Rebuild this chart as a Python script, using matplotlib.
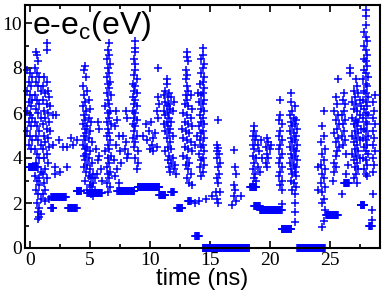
import numpy as np
import matplotlib
matplotlib.use("Agg")
import matplotlib.pyplot as plt

# ---- data: (time in ns, e - e_c in eV) ----
# vertical bursts of points
burst_a = [(-0.2, 7.9), (0.0, 7.8), (0.2, 7.6), (-0.1, 7.4), (0.1, 7.2), (-0.2, 7.0), (0.0, 6.8),
           (0.2, 6.6), (-0.1, 6.5), (0.1, 6.3), (-0.2, 6.1), (0.0, 5.9), (0.2, 5.8), (-0.1, 5.6),
           (0.1, 5.4), (-0.2, 5.2), (0.0, 5.0), (0.2, 4.8), (-0.1, 4.6), (0.1, 4.4)]
burst_b = [(0.5, 8.7), (0.7, 8.3), (0.4, 8.0), (0.6, 7.8), (0.8, 7.6), (0.5, 7.4), (0.7, 7.2),
           (0.9, 7.0), (0.4, 6.8), (0.6, 6.6), (0.8, 6.4), (0.5, 6.2), (0.7, 6.0), (0.9, 5.8),
           (0.4, 5.6), (0.6, 5.4), (0.8, 5.2), (0.5, 5.0), (0.7, 4.8), (0.9, 4.6), (0.4, 4.4),
           (0.6, 4.2), (0.8, 4.0), (0.5, 3.8), (0.7, 3.6), (0.9, 3.4), (0.4, 3.2), (0.6, 3.0),
           (0.8, 2.8), (0.5, 2.6), (0.7, 2.4), (0.9, 2.2), (0.6, 2.0), (0.8, 1.8), (0.7, 1.6),
           (0.9, 1.5), (0.8, 1.4), (0.7, 1.3), (0.8, 3.1), (1.4, 9.1), (1.4, 8.8), (0.6, 8.6)]
burst_c = [(1.2, 7.6), (1.4, 7.4), (1.1, 7.2), (1.5, 7.0), (1.3, 6.9), (1.6, 6.7), (1.1, 6.6),
           (1.4, 6.4), (1.7, 6.3), (1.2, 6.1), (1.5, 6.0), (1.3, 5.8), (1.6, 5.6), (1.1, 5.5),
           (1.4, 5.3), (1.7, 5.2), (1.2, 5.0), (1.5, 4.9), (1.3, 4.7), (1.6, 4.5), (1.1, 4.4),
           (1.4, 4.2), (1.2, 4.0), (1.5, 3.8), (1.3, 3.5), (1.1, 3.3), (1.4, 3.1), (1.2, 2.9),
           (1.3, 2.6), (1.1, 2.4), (1.6, 2.2), (1.3, 2.1)]
scatter_early = [(2.2, 5.9), (1.95, 5.9), (1.9, 4.6), (2.4, 4.8), (2.8, 4.5), (3.1, 4.5), (3.6, 4.6),
                 (3.9, 4.8), (2.1, 3.6), (2.1, 3.3), (2.5, 3.4), (3.1, 3.6), (3.4, 4.9)]
burst_d = [(4.6, 8.1), (4.5, 7.9), (4.7, 7.6), (4.4, 7.2), (4.8, 7.0), (4.5, 6.8), (4.9, 6.6),
           (4.6, 6.5), (4.4, 6.3), (5.0, 6.2), (4.7, 6.1), (4.5, 5.9), (4.9, 5.8), (4.6, 5.7),
           (5.1, 5.6), (4.4, 5.5), (4.8, 5.4), (4.6, 5.3), (5.0, 5.2), (4.7, 5.1), (4.5, 5.0),
           (4.9, 4.9), (4.6, 4.8), (5.2, 4.7), (4.4, 4.6), (4.8, 4.5), (4.6, 4.4), (5.0, 4.3),
           (4.7, 4.2), (4.5, 4.1), (4.9, 4.0), (4.6, 3.9), (5.2, 3.8), (4.8, 3.7), (4.5, 3.6),
           (5.0, 3.5), (4.7, 3.4), (5.3, 3.3), (4.9, 3.2), (5.1, 3.1), (4.6, 3.0), (5.3, 2.9),
           (5.0, 2.8), (5.2, 2.7), (4.8, 2.6), (5.4, 2.5), (5.1, 2.4), (5.3, 2.3),
           (5.5, 4.4), (5.7, 3.9), (5.9, 3.5), (5.6, 3.3), (6.0, 3.0), (5.8, 4.1), (5.4, 3.1),
           (5.7, 5.6), (5.8, 5.3)]
burst_e = [(6.6, 9.1), (6.5, 8.8), (6.6, 8.6), (6.4, 8.4), (6.7, 8.2), (6.5, 8.0), (6.6, 7.8),
           (6.4, 7.6), (6.7, 7.4), (6.5, 7.3), (6.6, 7.1), (6.4, 6.9), (6.8, 6.8), (6.5, 6.6),
           (6.6, 6.4), (6.3, 6.3), (6.7, 6.1), (6.5, 6.0), (6.6, 5.8), (6.4, 5.6), (6.8, 5.5),
           (6.5, 5.3), (6.6, 5.1), (6.4, 5.0), (6.7, 4.8), (6.5, 4.6), (6.6, 4.4), (6.3, 4.3),
           (6.8, 4.1), (6.5, 4.0), (6.6, 3.8), (6.4, 3.6), (6.7, 3.4), (6.5, 3.3), (6.6, 3.1),
           (6.4, 2.9), (6.7, 2.7), (6.5, 2.5)]
scatter_mid = [(7.2, 6.1), (7.3, 5.7), (7.1, 5.4), (7.4, 5.0), (7.2, 4.6), (7.5, 4.3), (7.0, 3.9),
               (7.3, 3.5), (7.1, 3.2), (7.4, 2.9), (7.8, 5.0), (8.0, 4.7), (7.9, 4.4), (8.2, 4.2),
               (8.1, 4.0), (7.6, 3.8), (8.0, 6.1), (8.1, 5.8)]
burst_f = [(8.8, 9.2), (8.8, 8.9), (8.8, 8.7), (8.7, 8.4), (8.8, 8.2), (8.8, 7.9), (8.7, 7.7),
           (8.9, 7.5), (8.6, 7.3), (8.8, 7.2), (8.7, 7.0), (8.9, 6.9), (8.6, 6.7), (8.8, 6.6),
           (8.7, 6.4), (8.9, 6.3), (8.6, 6.1), (8.8, 6.0), (8.7, 5.8), (8.9, 5.7), (8.6, 5.5),
           (8.8, 5.4), (8.7, 5.2), (8.9, 5.0), (8.6, 4.9), (8.8, 4.7), (8.7, 4.5), (9.0, 4.3),
           (8.8, 4.0), (9.0, 3.8), (8.9, 3.5)]
scatter_ten = [(9.4, 5.0), (9.7, 5.5), (9.9, 5.2), (10.1, 5.6), (9.8, 4.8), (10.2, 4.6), (10.0, 4.4),
               (10.4, 5.1), (10.7, 8.0), (10.3, 4.9), (10.6, 4.5), (10.25, 4.3), (10.7, 6.7),
               (10.8, 6.4), (10.6, 6.1), (10.7, 5.8)]
burst_g = [(11.4, 7.5), (11.4, 7.3), (11.3, 7.0), (11.6, 6.9), (11.2, 6.8), (11.5, 6.7), (11.8, 6.7),
           (11.3, 6.5), (11.6, 6.4), (12.0, 6.5), (11.4, 6.3), (11.7, 6.2), (11.2, 6.1), (11.5, 6.0),
           (11.9, 6.1), (11.3, 5.9), (11.6, 5.8), (11.4, 5.6), (11.8, 5.6), (11.2, 5.5), (11.5, 5.4),
           (11.7, 5.3), (11.3, 5.2), (11.6, 5.1), (11.9, 5.0), (11.4, 4.9), (11.7, 4.7), (11.5, 4.5),
           (11.8, 4.4), (11.3, 4.3), (11.6, 4.1), (11.9, 4.0), (11.5, 3.9), (11.8, 3.8), (12.1, 3.7),
           (11.6, 3.6), (12.0, 3.5), (11.7, 3.4), (12.2, 3.3)]
burst_h = [(13.1, 8.7), (13.1, 8.5), (13.2, 8.3), (13.0, 7.9), (13.1, 7.7), (13.0, 7.5), (13.1, 7.2),
           (13.2, 7.0), (13.0, 6.8), (13.1, 6.6), (13.4, 6.8), (12.9, 6.4), (13.2, 6.3), (13.5, 6.2),
           (12.8, 6.0), (13.1, 5.9), (13.4, 5.8), (12.9, 5.6), (13.2, 5.5), (13.5, 5.4), (12.7, 5.3),
           (13.0, 5.2), (13.3, 5.1), (12.8, 4.9), (13.1, 4.8), (13.4, 4.7), (12.9, 4.5), (13.2, 4.4),
           (13.5, 4.3), (12.8, 4.1), (13.1, 4.0), (13.3, 3.8), (13.0, 3.7), (13.2, 3.5), (13.4, 3.3),
           (13.1, 3.1), (13.3, 2.9), (13.5, 2.8), (13.75, 2.0)]
burst_i = [(14.4, 8.9), (14.4, 8.6), (14.3, 8.4), (14.5, 8.2), (14.4, 8.0), (14.3, 7.8), (14.5, 7.6),
           (14.4, 7.4), (14.2, 7.3), (14.5, 7.1), (14.4, 6.9), (14.3, 6.8), (14.5, 6.6), (14.1, 6.5),
           (14.4, 6.4), (14.3, 6.2), (14.5, 6.1), (14.2, 5.9), (14.4, 5.8), (14.3, 5.6), (14.5, 5.5),
           (14.1, 5.4), (14.4, 5.2), (14.3, 5.1), (14.5, 4.9), (14.2, 4.8), (14.4, 4.6), (14.3, 4.5),
           (14.5, 4.3), (14.1, 4.2), (14.4, 4.0), (14.3, 3.9), (14.5, 3.7), (14.2, 3.6), (14.4, 3.4),
           (14.3, 3.2), (13.9, 5.0), (13.8, 4.6), (14.0, 6.9), (14.7, 2.2), (14.1, 2.1)]
burst_j = [(15.7, 5.7), (15.6, 4.6), (15.7, 4.45), (15.6, 4.3), (15.8, 4.2), (15.6, 4.0), (15.9, 3.8),
           (15.7, 3.6), (15.8, 3.3), (15.6, 3.1), (15.7, 2.9), (15.5, 2.5), (15.9, 2.5), (15.6, 2.2),
           (15.7, 2.0), (15.2, 2.3)]
burst_k = [(17.0, 4.35), (17.1, 3.6), (17.2, 3.3), (17.0, 2.8), (17.1, 2.6), (17.0, 2.3), (17.2, 2.1),
           (16.9, 1.9), (17.6, 2.3)]
burst_l = [(18.7, 5.4), (18.7, 5.2), (18.6, 5.0), (18.9, 5.0), (18.8, 4.8), (19.3, 4.8), (18.6, 4.6),
           (19.0, 4.6), (18.7, 4.4), (19.1, 4.3), (18.6, 4.1), (18.9, 4.0), (19.4, 4.0), (18.7, 3.8),
           (19.0, 3.6), (18.6, 3.5), (18.8, 3.3), (19.2, 3.4), (18.7, 3.1), (18.9, 3.0), (18.6, 2.8)]
burst_m = [(19.8, 4.9), (19.9, 4.7), (19.7, 4.5), (20.0, 4.4), (19.8, 4.2), (19.9, 4.0), (19.7, 3.8),
           (19.8, 3.6), (20.1, 4.6)]
burst_n = [(20.9, 6.6), (20.9, 5.9), (20.8, 5.7), (21.0, 5.5), (20.9, 5.2), (20.8, 5.0), (21.0, 4.8),
           (20.9, 4.6), (20.8, 4.4), (21.0, 4.2), (20.9, 4.0), (20.8, 3.8), (21.0, 3.6), (20.9, 3.4),
           (20.8, 3.2), (21.0, 3.0), (20.9, 2.8), (21.0, 2.6), (21.0, 1.95)]
burst_o = [(21.8, 6.9), (21.8, 6.5), (22.1, 6.3), (21.9, 6.1), (21.7, 5.9), (22.0, 5.8), (22.2, 5.7),
           (21.8, 5.6), (22.1, 5.5), (21.9, 5.4), (22.3, 5.3), (21.7, 5.2), (22.0, 5.1), (22.2, 5.0),
           (21.8, 4.9), (22.1, 4.8), (21.9, 4.7), (22.3, 4.6), (21.7, 4.5), (22.0, 4.4), (22.2, 4.3),
           (21.8, 4.2), (22.1, 4.1), (21.9, 4.0), (22.3, 3.9), (21.7, 3.8), (22.0, 3.7), (22.2, 3.6),
           (21.8, 3.5), (22.1, 3.4), (21.9, 3.3), (22.2, 3.2), (21.8, 3.0), (22.0, 2.9), (22.2, 2.7),
           (21.9, 2.6), (22.1, 2.4), (22.1, 2.0), (22.1, 1.6), (22.1, 1.15)]
burst_q = [(24.5, 6.1), (24.4, 5.4), (24.5, 5.0), (24.3, 4.7), (24.6, 4.4), (24.4, 4.2), (24.5, 3.9),
           (24.3, 3.7), (24.6, 3.5), (24.4, 3.3), (24.5, 3.1), (24.3, 2.9), (24.6, 2.7), (24.4, 2.5),
           (24.5, 2.2), (24.4, 2.0), (24.6, 1.7), (24.5, 1.2), (24.4, 0.95), (24.0, 3.6), (24.0, 2.6)]
burst_r = [(25.25, 3.0), (25.5, 6.7), (25.6, 6.4), (25.4, 6.1), (25.7, 5.9), (25.5, 5.7), (25.8, 5.5),
           (25.6, 5.3), (25.4, 5.1), (25.7, 4.9), (25.5, 4.7), (25.8, 4.5), (25.6, 4.3), (25.5, 4.1),
           (26.0, 2.4), (25.4, 3.8), (25.5, 3.6), (25.4, 3.4), (25.7, 7.5)]
burst_s = [(26.7, 8.0), (26.7, 7.8), (26.2, 6.9), (26.1, 6.6), (26.3, 6.4), (26.2, 6.1), (26.0, 5.9),
           (26.3, 5.7), (26.1, 5.5), (26.2, 5.2), (26.0, 5.0), (26.3, 4.8), (26.1, 4.6), (26.4, 4.2),
           (26.5, 3.7), (26.4, 3.3)]
burst_t = [(27.2, 7.5), (27.3, 7.2), (27.0, 7.0), (27.4, 6.9), (27.1, 6.7), (27.5, 6.6), (26.9, 6.5),
           (27.2, 6.4), (27.6, 6.3), (27.0, 6.2), (27.3, 6.1), (27.5, 5.9), (26.9, 5.8), (27.2, 5.7),
           (27.4, 5.6), (27.0, 5.5), (27.3, 5.4), (27.6, 5.3), (27.1, 5.2), (27.4, 5.1), (26.9, 5.0),
           (27.2, 4.9), (27.5, 4.8), (27.0, 4.7), (27.3, 4.6), (27.1, 4.4), (27.4, 4.3), (26.9, 4.2),
           (27.2, 4.1), (27.5, 4.0), (27.0, 3.9), (27.3, 3.8), (27.1, 3.6), (27.4, 3.5), (27.2, 3.3),
           (27.0, 3.1), (27.3, 2.9)]
burst_u = [(28.0, 10.6), (28.0, 10.3), (28.0, 9.9), (27.9, 9.6), (28.0, 9.4), (28.1, 9.2), (27.9, 9.0),
           (28.0, 8.8), (28.1, 8.6), (27.9, 8.4), (28.0, 8.3), (28.1, 8.1), (27.9, 7.9), (28.0, 7.8),
           (28.2, 7.6), (27.8, 7.5), (28.0, 7.3), (28.1, 7.2), (27.9, 7.0), (28.0, 6.9), (28.2, 6.7),
           (27.8, 6.6), (28.0, 6.5), (28.1, 6.3), (27.9, 6.2), (28.0, 6.0), (28.2, 5.9), (27.8, 5.8),
           (28.0, 5.6), (28.1, 5.5), (27.9, 5.3), (28.0, 5.2), (28.2, 5.0), (27.8, 4.9), (28.0, 4.8),
           (28.1, 4.6), (27.9, 4.5), (28.0, 4.3), (28.2, 4.2), (27.8, 4.0), (28.0, 3.9), (28.1, 3.7),
           (27.9, 3.5), (28.0, 3.3), (28.1, 3.2)]
burst_v = [(28.75, 6.8), (28.6, 6.5), (28.7, 6.1), (28.6, 5.8), (28.8, 5.5), (28.6, 5.2), (28.7, 4.9),
           (28.6, 4.6), (28.8, 4.3), (28.6, 4.0), (28.7, 3.7), (28.6, 3.4), (28.6, 2.4), (28.5, 1.7),
           (28.5, 1.25)]

# plateaus: runs of closely spaced points at a nearly fixed energy
plateau_levels = [3.6, 2.27, 1.8, 1.8, 2.55, 2.45, 2.55, 2.72, 2.35, 2.5, 1.8, 2.1, 0.55,
                  0.0, 2.7, 1.85, 1.7, 0.85, 0.0, 1.47, 2.9, 1.9, 0.98]
plateau_times = [
    [-0.1, -0.05, 0.0, 0.05, 0.1, 0.15, 0.2, 0.25, 0.3, 0.35, 0.4, 0.45, 0.5, 0.55, 0.6],
    [1.8, 1.85, 1.9, 1.95, 2.0, 2.05, 2.1, 2.15, 2.2, 2.25, 2.3, 2.35, 2.4, 2.45, 2.5, 2.55,
     2.6, 2.65, 2.7, 2.75, 2.8, 2.85, 2.9, 2.95, 3.0],
    [3.2, 3.25, 3.3, 3.35, 3.4, 3.45, 3.5, 3.55, 3.6, 3.65, 3.7, 3.75, 3.8, 3.85, 3.9],
    [1.8, 1.85, 1.9, 1.95],
    [3.9, 3.95, 4.0, 4.05, 4.1, 4.15, 4.2, 4.25, 4.3],
    [4.8, 4.85, 4.9, 4.95, 5.0, 5.05, 5.1, 5.15, 5.2, 5.25, 5.3, 5.35, 5.4, 5.45, 5.5, 5.55,
     5.6, 5.65, 5.7, 5.75, 5.8, 5.85, 5.9, 5.95, 6.0],
    [7.3, 7.35, 7.4, 7.45, 7.5, 7.55, 7.6, 7.65, 7.7, 7.75, 7.8, 7.85, 7.9, 7.95, 8.0, 8.05,
     8.1, 8.15, 8.2, 8.25, 8.3, 8.35, 8.4, 8.45, 8.5, 8.55, 8.6, 8.65, 8.7],
    [9.0, 9.05, 9.1, 9.15, 9.2, 9.25, 9.3, 9.35, 9.4, 9.45, 9.5, 9.55, 9.6, 9.65, 9.7, 9.75,
     9.8, 9.85, 9.9, 9.95, 10.0, 10.05, 10.1, 10.15, 10.2, 10.25, 10.3, 10.35, 10.4, 10.45,
     10.5, 10.55, 10.6, 10.65, 10.7, 10.75, 10.8],
    [10.8, 10.85, 10.9, 10.95, 11.0, 11.05, 11.1, 11.15, 11.2, 11.25, 11.3],
    [11.8, 11.85, 11.9, 11.95, 12.0],
    [12.3, 12.35, 12.4, 12.45, 12.5, 12.55, 12.6, 12.65, 12.7],
    [13.2, 13.25, 13.3, 13.35, 13.4],
    [13.8, 13.85, 13.9, 13.95, 14.0, 14.05, 14.1],
    [14.4, 14.45, 14.5, 14.55, 14.6, 14.65, 14.7, 14.75, 14.8, 14.85, 14.9, 14.95, 15.0,
     15.05, 15.1, 15.15, 15.2, 15.25, 15.3, 15.35, 15.4, 15.45, 15.5, 15.55, 15.6, 15.65,
     15.7, 15.75, 15.8, 15.85, 15.9, 15.95, 16.0, 16.05, 16.1, 16.15, 16.2, 16.25, 16.3,
     16.35, 16.4, 16.45, 16.5, 16.55, 16.6, 16.65, 16.7, 16.75, 16.8, 16.85, 16.9, 16.95,
     17.0, 17.05, 17.1, 17.15, 17.2, 17.25, 17.3, 17.35, 17.4, 17.45, 17.5, 17.55, 17.6,
     17.65, 17.7, 17.75, 17.8, 17.85, 17.9, 17.95, 18.0, 18.05, 18.1, 18.15, 18.2, 18.25,
     18.3],
    [18.4, 18.45, 18.5, 18.55, 18.6, 18.65, 18.7, 18.75, 18.8, 18.85, 18.9],
    [18.7, 18.75, 18.8, 18.85, 18.9, 18.95, 19.0, 19.05, 19.1, 19.15, 19.2],
    [19.2, 19.25, 19.3, 19.35, 19.4, 19.45, 19.5, 19.55, 19.6, 19.65, 19.7, 19.75, 19.8,
     19.85, 19.9, 19.95, 20.0, 20.05, 20.1, 20.15, 20.2, 20.25, 20.3, 20.35, 20.4, 20.45,
     20.5, 20.55, 20.6, 20.65, 20.7, 20.75, 20.8, 20.85, 20.9, 20.95, 21.0],
    [21.0, 21.05, 21.1, 21.15, 21.2, 21.25, 21.3, 21.35, 21.4, 21.45, 21.5, 21.55, 21.6,
     21.65, 21.7, 21.75, 21.8],
    [22.3, 22.35, 22.4, 22.45, 22.5, 22.55, 22.6, 22.65, 22.7, 22.75, 22.8, 22.85, 22.9,
     22.95, 23.0, 23.05, 23.1, 23.15, 23.2, 23.25, 23.3, 23.35, 23.4, 23.45, 23.5, 23.55,
     23.6, 23.65, 23.7, 23.75, 23.8, 23.85, 23.9, 23.95, 24.0, 24.05, 24.1, 24.15, 24.2,
     24.25, 24.3, 24.35, 24.4, 24.45, 24.5, 24.55, 24.6],
    [24.7, 24.75, 24.8, 24.85, 24.9, 24.95, 25.0, 25.05, 25.1, 25.15, 25.2, 25.25, 25.3,
     25.35, 25.4, 25.45, 25.5, 25.55, 25.6, 25.65, 25.7],
    [26.2, 26.25, 26.3, 26.35, 26.4, 26.45, 26.5, 26.55, 26.6],
    [27.6, 27.65, 27.7, 27.75, 27.8, 27.85, 27.9],
    [28.3, 28.35, 28.4, 28.45, 28.5],
]

bursts = [burst_a, burst_b, burst_c, scatter_early, burst_d, burst_e, scatter_mid, burst_f,
          scatter_ten, burst_g, burst_h, burst_i, burst_j, burst_k, burst_l, burst_m, burst_n,
          burst_o, burst_q, burst_r, burst_s, burst_t, burst_u, burst_v]

x_ticks = [0, 5, 10, 15, 20, 25]
y_ticks = [0, 2, 4, 6, 8, 10]

plt.rcParams["mathtext.fontset"] = "custom"
plt.rcParams["mathtext.rm"] = "Liberation Sans"
plt.rcParams["mathtext.it"] = "Liberation Sans:italic"
plt.rcParams["lines.solid_capstyle"] = "butt"

fig = plt.figure(figsize=(3.82, 2.94), dpi=100)
ax = fig.add_axes([25 / 382, 46 / 294, 355 / 382, 243 / 294])

blue = "#0000ff"
marker_kw = dict(linestyle="none", marker="+", markersize=5.6, markeredgewidth=1.1,
                 color=blue, markeredgecolor=blue, clip_on=False, snap=False)

for pts in bursts:
    t = [p[0] for p in pts]
    e = [p[1] for p in pts]
    ax.plot(t, e, **marker_kw)

for level, times in zip(plateau_levels, plateau_times):
    ax.plot(times, [level] * len(times), **marker_kw)

ax.set_xlim(-0.4, 29.2)
ax.set_ylim(0, 10.8)
ax.set_xticks(x_ticks)
ax.set_yticks(y_ticks)
ax.set_xticks([2.5, 7.5, 12.5, 17.5, 22.5, 27.5], minor=True)
ax.set_yticks([1, 3, 5, 7, 9], minor=True)

ax.tick_params(which="both", direction="in", top=True, right=False, width=1.2,
               labelfontfamily="Liberation Serif", labelsize=14)
ax.tick_params(which="major", length=5)
ax.tick_params(which="minor", length=3)
ax.tick_params(axis="y", pad=2)
ax.tick_params(axis="x", pad=3)

for side in ["left", "right", "top", "bottom"]:
    ax.spines[side].set_linewidth(1.5)

ax.set_xlabel("time (ns)", fontsize=17, family="Liberation Sans", labelpad=-1)
ax.text(0.02, 0.88, r"e-e$_{\rm c}$(eV)", transform=ax.transAxes, fontsize=23,
        family="Liberation Sans", va="baseline", ha="left")

fig.savefig("out.png", dpi=100)
